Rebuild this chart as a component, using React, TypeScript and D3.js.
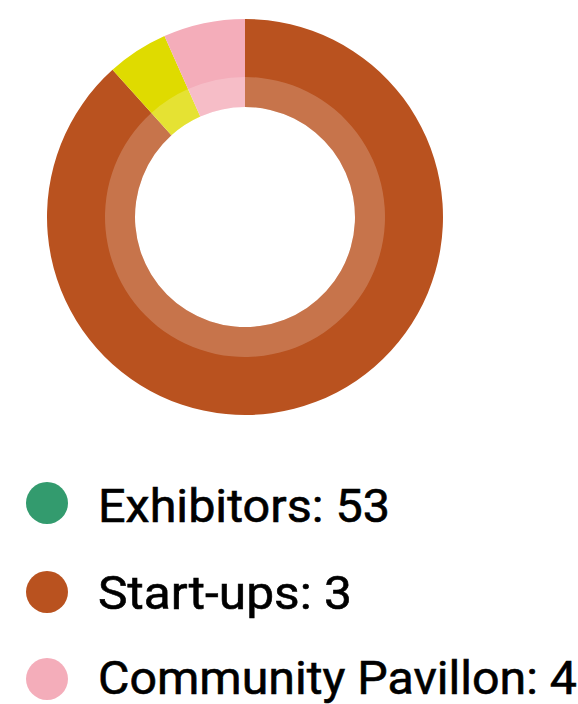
import { useRef, useEffect } from "react";
import * as d3 from "d3";

const labels = ["Exhibitors", "Start-ups", "Community Pavillon"];
const values = [53, 3, 4];
const sliceColors = ["#b9521f", "#dfdb00", "#f4adba"];
const legendColors = ["#339b6e", "#b9521f", "#f4adba"];

export default function App() {
  const ref = useRef<SVGSVGElement>(null);

  useEffect(() => {
    const svg = d3.select(ref.current);
    svg.selectAll("*").remove();

    const cx = 245, cy = 217;
    const outer = 198, mid = 140, inner = 110;

    const pie = d3.pie<number>().sort(null).value((d) => d);
    const arcs = pie(values);

    const g = svg.append("g").attr("transform", `translate(${cx},${cy})`);

    g.selectAll("path.slice")
      .data(arcs)
      .join("path")
      .attr("class", "slice")
      .attr("fill", (_, i) => sliceColors[i])
      .attr("d", d3.arc<d3.PieArcDatum<number>>().innerRadius(inner).outerRadius(outer));

    // lighter inner ring
    g.selectAll("path.ring")
      .data(arcs)
      .join("path")
      .attr("class", "ring")
      .attr("fill", "#fff")
      .attr("fill-opacity", 0.2)
      .attr("d", d3.arc<d3.PieArcDatum<number>>().innerRadius(inner).outerRadius(mid));

    const legend = svg.append("g");
    const rowY = [503, 592, 679];
    const baseY = [522, 609, 694];
    const textW = [292, 254, 479];
    labels.forEach((label, i) => {
      legend.append("circle").attr("cx", 47).attr("cy", rowY[i]).attr("r", 21).attr("fill", legendColors[i]);
      legend.append("text")
        .attr("x", 98)
        .attr("y", baseY[i])
        .attr("font-family", "Roboto, sans-serif")
        .attr("font-size", 47)
        .attr("stroke", "#000")
        .attr("stroke-width", 0.6)
        .attr("textLength", textW[i])
        .attr("lengthAdjust", "spacingAndGlyphs")
        .attr("fill", "#000")
        .text(`${label}: ${values[i]}`);
    });
  }, []);

  return (
    <svg
      ref={ref}
      width={578}
      height={704}
      style={{ position: "absolute", left: 0, top: 0 }}
    />
  );
}
